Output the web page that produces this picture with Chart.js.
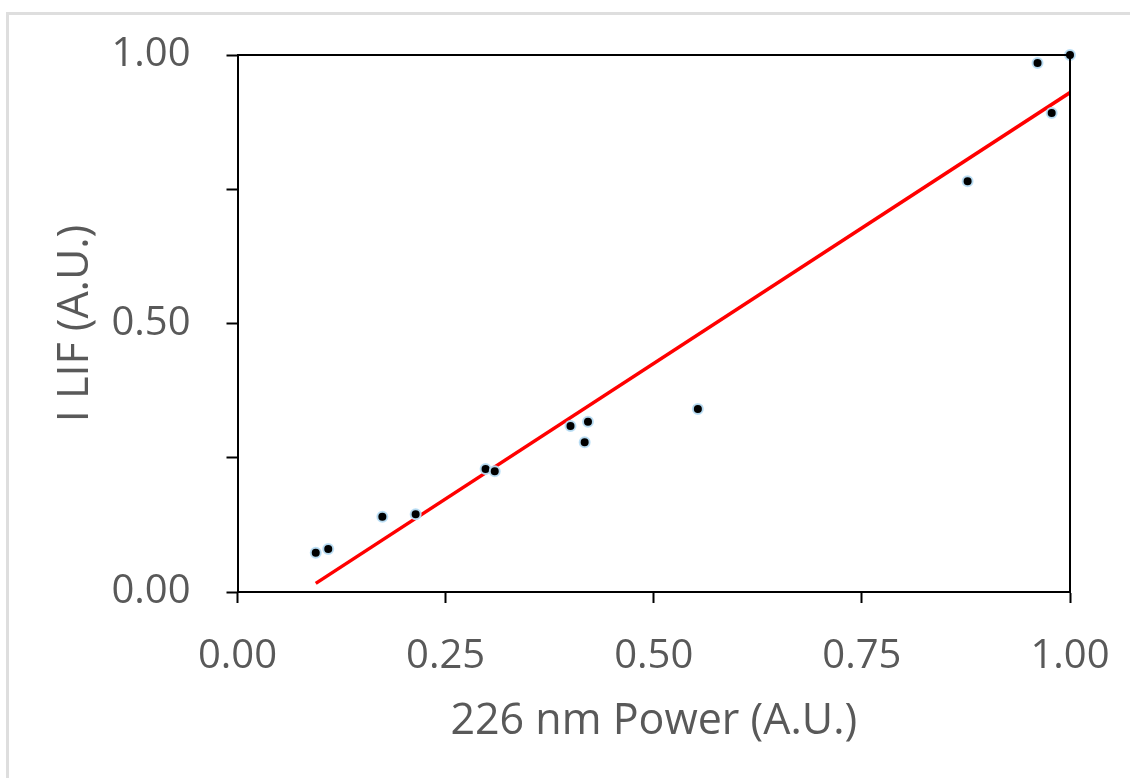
<!DOCTYPE html>
<html>
<head>
<meta charset="utf-8">
<script src="https://cdn.jsdelivr.net/npm/chart.js@4.4.1/dist/chart.umd.min.js"></script>
<style>
  html, body { margin: 0; padding: 0; background: #fff; }
  #wrap { position: relative; width: 1130px; height: 778px; overflow: hidden; }
  #frame { position: absolute; left: 6px; top: 12px; right: -5px; bottom: -5px;
           border-top: 3px solid #dedede; border-left: 3px solid #dedede; }
  canvas { position: absolute; left: 0; top: 0; }
</style>
</head>
<body>
<div id="wrap">
  <div id="frame"></div>
  <canvas id="grafico" width="1130" height="778"></canvas>
</div>
<script>
// Datos (potencia normalizada vs. intensidad LIF)
const potencia = [0.094, 0.109, 0.174, 0.214, 0.298, 0.309, 0.400, 0.421, 0.417, 0.553, 0.877, 0.961, 0.978, 1.000];
const intensidad = [0.073, 0.080, 0.140, 0.145, 0.229, 0.225, 0.309, 0.317, 0.279, 0.341, 0.765, 0.985, 0.892, 1.000];

// Linea de tendencia (extremos)
const tendenciaX = [0.094, 1.000];
const tendenciaY = [0.016, 0.930];

// Etiquetas de los ejes
const etiquetasX = ['0.00', '0.25', '0.50', '0.75', '1.00'];
const etiquetasY = ['0.00', '', '0.50', '', '1.00'];

const colorTexto = '#595959';
const fuente = { family: "'Open Sans', sans-serif", size: 40 };
const fuenteTitulo = { family: "'Open Sans', sans-serif", size: 43 };

// Marco superior y derecho del area del grafico
const marco = {
    id: 'marco',
    afterDatasetsDraw(chart) {
        const { ctx, chartArea } = chart;
        ctx.save();
        ctx.strokeStyle = '#000';
        ctx.lineWidth = 2;
        ctx.beginPath();
        ctx.moveTo(chartArea.left, chartArea.top);
        ctx.lineTo(chartArea.right, chartArea.top);
        ctx.lineTo(chartArea.right, chartArea.bottom);
        ctx.stroke();
        ctx.restore();
    }
};

const ctx = document.getElementById('grafico').getContext('2d');
new Chart(ctx, {
    type: 'scatter',
    data: {
        datasets: [{
            label: 'I LIF',
            data: potencia.map((x, i) => ({ x: x, y: intensidad[i] })),
            backgroundColor: '#000',
            borderColor: 'rgba(185, 222, 245, 0.95)',
            borderWidth: 2,
            pointRadius: 5,
            clip: false,
            order: 0
        }, {
            type: 'line',
            label: 'Tendencia',
            data: tendenciaX.map((x, i) => ({ x: x, y: tendenciaY[i] })),
            borderColor: '#ff0000',
            borderWidth: 3.5,
            pointRadius: 0,
            fill: false,
            order: 1
        }]
    },
    plugins: [marco],
    options: {
        responsive: false,
        animation: false,
        layout: { padding: { left: 0, right: 60, top: 55, bottom: 0 } },
        plugins: {
            legend: { display: false },
            tooltip: { enabled: false }
        },
        scales: {
            x: {
                type: 'linear',
                min: 0,
                max: 1,
                afterBuildTicks: (scale) => {
                    scale.ticks = etiquetasX.map((_, i) => ({ value: i * 0.25 }));
                },
                afterFit: (scale) => {
                    scale.height = 186;
                    scale.paddingLeft = 0;
                    scale.paddingRight = 0;
                },
                ticks: {
                    color: colorTexto,
                    font: fuente,
                    padding: 30,
                    maxRotation: 0,
                    autoSkip: false,
                    callback: (v, i) => etiquetasX[i]
                },
                grid: {
                    drawOnChartArea: false,
                    tickLength: 11,
                    tickWidth: 2,
                    tickColor: '#000'
                },
                border: { color: '#000', width: 2 },
                title: {
                    display: true,
                    text: '226 nm Power (A.U.)',
                    color: colorTexto,
                    font: fuenteTitulo,
                    padding: { top: 0, bottom: 30 }
                }
            },
            y: {
                type: 'linear',
                min: 0,
                max: 1,
                afterBuildTicks: (scale) => {
                    scale.ticks = etiquetasY.map((_, i) => ({ value: i * 0.25 }));
                },
                afterFit: (scale) => {
                    scale.width = 237.5;
                    scale.paddingTop = 0;
                    scale.paddingBottom = 0;
                },
                ticks: {
                    color: colorTexto,
                    font: fuente,
                    padding: 36,
                    autoSkip: false,
                    callback: (v, i) => etiquetasY[i]
                },
                grid: {
                    drawOnChartArea: false,
                    tickLength: 11,
                    tickWidth: 2,
                    tickColor: '#000'
                },
                border: { color: '#000', width: 2 },
                title: {
                    display: true,
                    text: 'I LIF (A.U.)',
                    color: colorTexto,
                    font: fuenteTitulo,
                    padding: { top: 50, bottom: 0 }
                }
            }
        }
    }
});
</script>
</body>
</html>
